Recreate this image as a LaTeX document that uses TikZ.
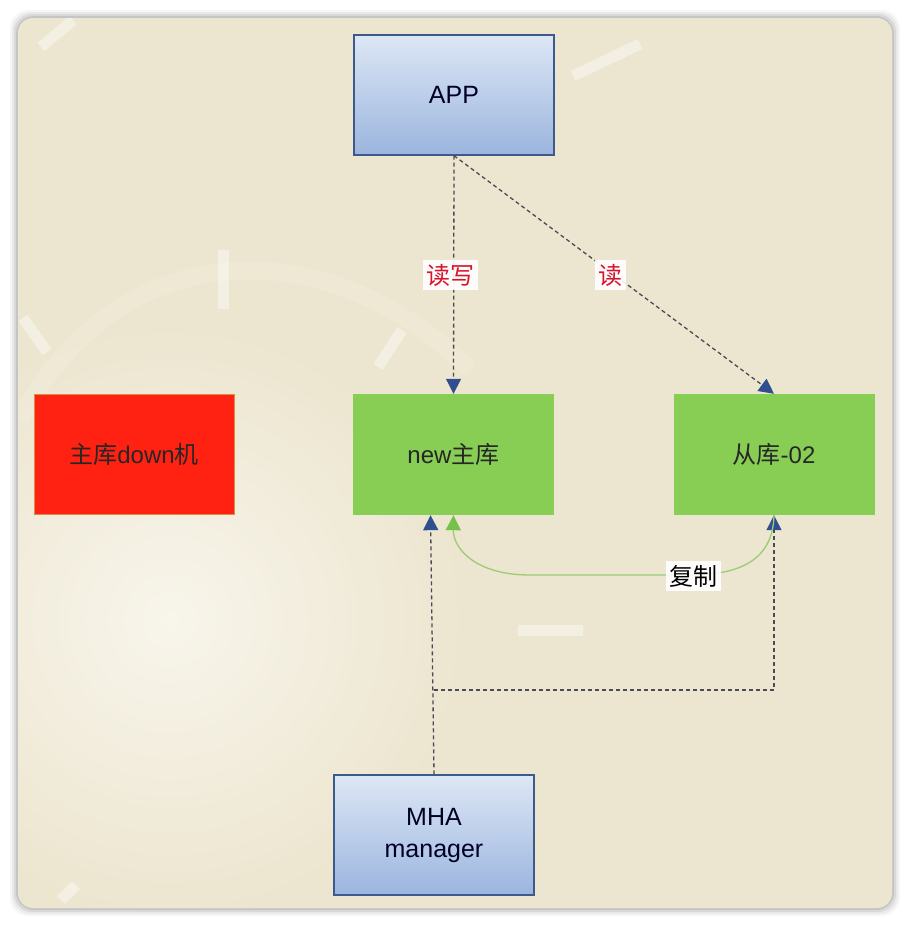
\documentclass[tikz,border=0pt]{standalone}
\usepackage{fontspec}
\setmainfont{Liberation Sans}
\newfontfamily\cjk{Noto Sans CJK SC}
\usetikzlibrary{arrows.meta,calc}
\definecolor{bgbeige}{HTML}{ECE5CF}
\definecolor{bglight}{HTML}{F8F5EB}
\definecolor{apptop}{HTML}{DDE7F5}
\definecolor{appbot}{HTML}{9BB5DE}
\definecolor{appedge}{HTML}{3C5A8C}
\definecolor{downred}{HTML}{FF2212}
\definecolor{downedge}{HTML}{D89040}
\definecolor{dbgreen}{HTML}{88CE55}
\definecolor{dashgray}{HTML}{4A4A55}
\definecolor{tipblue}{HTML}{2F4F8F}
\definecolor{labred}{HTML}{D8142C}
\definecolor{repgreen}{HTML}{9CCB74}
\definecolor{tipgreen}{HTML}{77C04A}
\tikzset{
  x=1pt, y=-1pt,
  bluebox/.style={draw=appedge, line width=1.3pt, top color=apptop, bottom color=appbot,
    minimum width=200pt, minimum height=120pt, inner sep=0pt, align=center, text=black!85!blue,
    font=\fontsize{25}{32}\selectfont},
  greenbox/.style={fill=dbgreen, minimum width=201pt, minimum height=121pt, inner sep=0pt,
    font=\fontsize{24}{28}\selectfont, text=black!85},
  redbox/.style={fill=downred, draw=downedge, line width=0.8pt, minimum width=200pt,
    minimum height=120pt, inner sep=0pt, font=\fontsize{24}{28}\selectfont, text=black!85},
  dashconn/.style={draw=dashgray, line width=1.3pt, dash pattern=on 4pt off 3pt},
  bluetip/.style={-{Triangle[width=15pt,length=15pt,fill=tipblue,color=tipblue]}},
  edgelabel/.style={fill=white, fill opacity=0.9, text opacity=1, inner sep=3.5pt,
    font=\cjk\fontsize{24}{28}\selectfont},
  deco/.style={draw=white, opacity=0.4, line width=11pt},
}
\begin{document}
\begin{tikzpicture}
\useasboundingbox (0,0) rectangle (910,926);
% frame with shadow
\fill[white] (0,0) rectangle (910,926);
\foreach \d/\o in {8/0.03,6/0.05,4/0.07,2/0.09}{
  \fill[black, opacity=\o, rounded corners=18pt] (18-\d,18-\d) rectangle (892+\d,908+\d);
}
\fill[bgbeige, rounded corners=15pt] (18,18) rectangle (892,908);
\begin{scope}
  \clip[rounded corners=15pt] (18,18) rectangle (892,908);
  \shade[inner color=bglight, outer color=bgbeige] (170,620) circle (300pt);
  \draw[white, opacity=0.12, line width=18pt] (20,420) .. controls (120,230) and (330,230) .. (470,370);
  \draw[deco] (41,47) -- (73,20);
  \draw[deco] (573,76) -- (640,44);
  \draw[deco] (223,250) -- (223,309);
  \draw[deco] (23,318) -- (47,352);
  \draw[deco] (402,330) -- (378,367);
  \draw[deco] (518,630) -- (583,630);
  \draw[deco] (61,900) -- (76,885);
\end{scope}

% nodes
\node[bluebox] (app) at (454,95) {APP};
\node[redbox] (down) at (134,454.5) {{\cjk 主库}down{\cjk 机}};
\node[greenbox] (new) at (453.5,454.5) {new{\cjk 主库}};
\node[greenbox] (slave) at (774,454.5) {{\cjk 从库}-02};
\node[bluebox] (mha) at (434,835) {MHA\\manager};
\coordinate (junc) at (434,690);

% connectors
\draw[dashconn, bluetip] (app.south) -- (new.north);
\draw[dashconn, bluetip] (app.south) -- (slave.north);
\draw[dashconn, bluetip] (mha.north) -- ($(new.south)+(-23,0)$);
\draw[dashconn, bluetip] (junc) -| (slave.south);
\draw[repgreen, line width=1.3pt, -{Triangle[width=15pt,length=15pt,fill=tipgreen,color=tipgreen]}]
  (slave.south) .. controls (773,560) and (740,575) .. (690,575) -- (530,575)
  .. controls (475,575) and (453,548) .. (new.south);

% labels
\node[edgelabel, text=labred] (lrw) at (450,275) {读写};
\node[edgelabel, text=labred] (lr) at (610,275) {读};
\node[edgelabel, text=black] (lrep) at (693,576) {复制};
\end{tikzpicture}
\end{document}
